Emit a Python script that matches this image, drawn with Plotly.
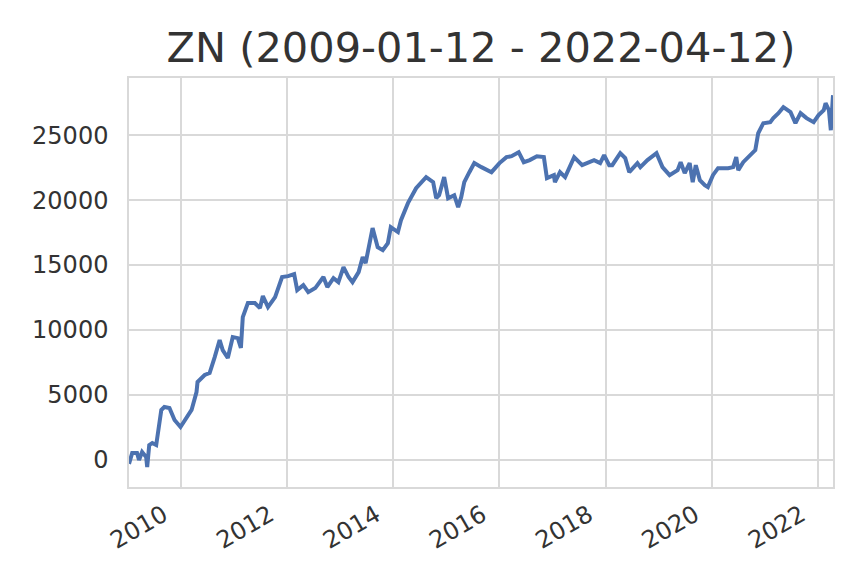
import plotly.graph_objects as go

dates = [
    "2009-01-12", "2009-02-03", "2009-03-08", "2009-03-22", "2009-04-12", "2009-05-10", "2009-05-17",
    "2009-05-31", "2009-06-21", "2009-07-18", "2009-08-22", "2009-09-12", "2009-10-17", "2009-11-21",
    "2010-01-01", "2010-02-12", "2010-03-18", "2010-04-21", "2010-04-28", "2010-06-16", "2010-07-20",
    "2010-08-24", "2010-09-27", "2010-10-18", "2010-11-22", "2010-12-26", "2011-01-30", "2011-02-20",
    "2011-03-05", "2011-04-09", "2011-05-27", "2011-07-01", "2011-07-21", "2011-08-25", "2011-10-13",
    "2011-11-30", "2012-01-10", "2012-02-21", "2012-03-13", "2012-04-24", "2012-05-28", "2012-07-15",
    "2012-09-09", "2012-10-06", "2012-11-17", "2012-12-21", "2013-01-25", "2013-03-01", "2013-03-28",
    "2013-05-09", "2013-06-06", "2013-06-26", "2013-08-13", "2013-09-17", "2013-10-22", "2013-11-26",
    "2013-12-16", "2014-02-03", "2014-02-24", "2014-04-13", "2014-06-08", "2014-08-16", "2014-10-03",
    "2014-10-24", "2014-11-13", "2014-12-18", "2015-01-14", "2015-02-25", "2015-03-24", "2015-04-14",
    "2015-05-05", "2015-06-09", "2015-07-13", "2015-08-31", "2015-11-08", "2016-01-02", "2016-02-19",
    "2016-03-25", "2016-05-13", "2016-06-17", "2016-07-28", "2016-09-15", "2016-11-02", "2016-11-23",
    "2017-01-10", "2017-01-17", "2017-02-21", "2017-03-28", "2017-05-29", "2017-07-23", "2017-10-13",
    "2017-11-24", "2017-12-21", "2018-01-25", "2018-02-15", "2018-04-11", "2018-05-15", "2018-06-12",
    "2018-08-07", "2018-08-27", "2018-10-15", "2018-12-16", "2019-01-26", "2019-03-16", "2019-05-10",
    "2019-05-31", "2019-06-28", "2019-08-01", "2019-08-22", "2019-09-12", "2019-10-10", "2019-11-13",
    "2019-12-04", "2020-01-08", "2020-02-12", "2020-04-21", "2020-05-26", "2020-06-16", "2020-06-30",
    "2020-08-03", "2020-09-21", "2020-10-25", "2020-11-14", "2020-12-19", "2021-02-05", "2021-02-26",
    "2021-04-02", "2021-05-06", "2021-06-24", "2021-07-28", "2021-09-01", "2021-10-12", "2021-11-30",
    "2022-01-03", "2022-02-07", "2022-02-20", "2022-03-15", "2022-03-28", "2022-04-12",
]
pnl = [
    -300, 540, 540, 0, 615, 230, -540,
    1150, 1310, 1150, 3850, 4080, 4000, 3080,
    2540, 3310, 3850, 5230, 6000, 6540, 6690,
    7920, 9230, 8460, 7850, 9460, 9380, 8620,
    11000, 12080, 12080, 11690, 12620, 11770, 12540,
    14080, 14150, 14310, 13080, 13460, 12920, 13230,
    14080, 13310, 14000, 13690, 14850, 14080, 13690,
    14460, 15620, 15150, 17850, 16380, 16150, 16690,
    17920, 17540, 18460, 19770, 20920, 21770, 21380,
    20150, 20380, 21770, 20150, 20380, 19460, 20230,
    21380, 22150, 22850, 22540, 22150, 22850, 23310,
    23380, 23690, 22920, 23080, 23380, 23310, 21690,
    21920, 21380, 22150, 21770, 23310, 22690, 23080,
    22850, 23460, 22690, 22690, 23620, 23230, 22150,
    22850, 22540, 23080, 23620, 22540, 21920, 22310,
    22920, 22080, 22850, 21380, 22690, 21540, 21150,
    21000, 21920, 22460, 22460, 22540, 23310, 22310,
    22920, 23460, 23850, 25150, 25920, 26000, 26310,
    26690, 27150, 26770, 25920, 26690, 26310, 26000,
    26540, 26920, 27460, 26920, 25380, 28080,
]
title_text = "ZN (2009-01-12 - 2022-04-12)"
y_ticks = [0, 5000, 10000, 15000, 20000, 25000]
y_tick_labels = ["0", "5000", "10000", "15000", "20000", "25000"]

font = "DejaVu Sans"
text_col = "#333333"
grid_col = "#d9d9d9"

fig = go.Figure()
fig.add_trace(go.Scatter(x=dates, y=pnl, mode="lines",
                         line=dict(color="#4c72b0", width=4)))

fig.update_layout(
    width=848, height=576,
    margin=dict(l=129, r=15, t=78, b=89, autoexpand=False),
    paper_bgcolor="white", plot_bgcolor="white",
    showlegend=False,
    title=dict(text=title_text, x=0.5, xref="paper", xanchor="center",
               y=1 - 47 / 576, yanchor="middle", automargin=False,
               font=dict(family=font, size=41.5, color=text_col)),
    font=dict(family=font, color=text_col),
)
fig.update_xaxes(
    type="date", range=["2009-01-12", "2022-04-12"],
    tick0="2010-01-01", dtick="M24", tickformat="%Y",
    tickangle=-30, tickfont=dict(size=24, color=text_col),
    showgrid=True, gridcolor=grid_col, gridwidth=1.5,
    showline=True, linecolor=grid_col, linewidth=1.5, mirror=True,
    ticks="", ticklabelstandoff=3, ticklabelshift=-17,
    zeroline=False, automargin=False,
)
fig.update_yaxes(
    range=[-2080, 29400], tickvals=y_ticks, ticktext=y_tick_labels,
    tickfont=dict(size=24, color=text_col),
    showgrid=True, gridcolor=grid_col, gridwidth=1.5,
    showline=True, linecolor=grid_col, linewidth=1.5, mirror=True,
    ticks="outside", ticklen=14, tickcolor="rgba(0,0,0,0)",
    zeroline=False, automargin=False,
)

fig.write_html("out.html", config={"displayModeBar": False},
               post_script="document.body.style.margin='0px';")
